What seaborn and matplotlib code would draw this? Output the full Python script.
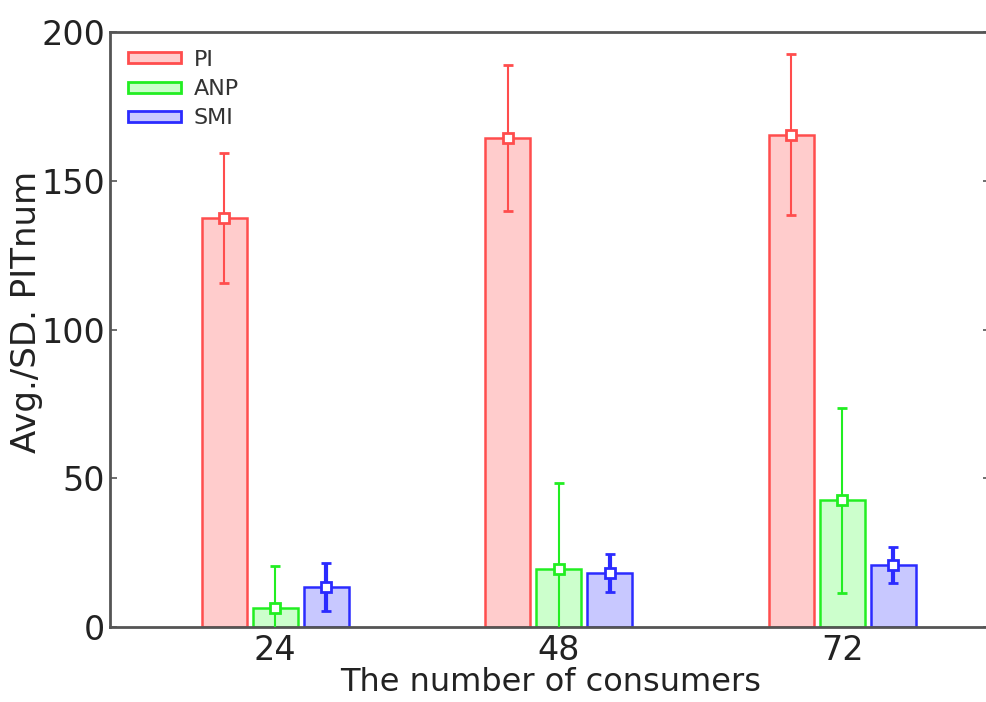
import pandas as pd
import seaborn as sns
import matplotlib.pyplot as plt

# values
consumers = ['24', '48', '72']
methods = ['PI', 'ANP', 'SMI']
pi_avg = [137.5, 164.3, 165.5]
pi_sd = [22.0, 24.5, 27.0]
anp_avg = [6.5, 19.5, 42.6]
anp_sd = [14.0, 29.0, 31.0]
smi_avg = [13.5, 18.2, 20.9]
smi_sd = [8.0, 6.5, 6.0]

face_colors = ['#ffcccc', '#ccffcc', '#c8c8ff']
edge_colors = ['#ff4d4d', '#22ee22', '#2b2bff']
err_widths = [1.5, 1.5, 3.0]

df = pd.DataFrame({
    'consumers': consumers * 3,
    'method': [m for m in methods for _ in consumers],
    'avg': pi_avg + anp_avg + smi_avg,
})
sds = [pi_sd, anp_sd, smi_sd]

sns.set_style('white')
plt.rcParams['font.family'] = ['DejaVu Sans']

fig = plt.figure(figsize=(9.87, 7.02), dpi=100)
ax = fig.add_axes([0.1115, 0.1068, 0.892, 0.8476])

sns.barplot(data=df, x='consumers', y='avg', hue='method', order=consumers,
            hue_order=methods, palette=face_colors, width=0.54, gap=0.12,
            errorbar=None, saturation=1, ax=ax)

# edges, error bars and mean markers
bar_groups = list(ax.containers)
for i, cont in enumerate(bar_groups):
    xs, ys = [], []
    for bar in cont:
        bar.set_edgecolor(edge_colors[i])
        bar.set_linewidth(1.8)
        xs.append(bar.get_x() + bar.get_width() / 2)
        ys.append(bar.get_height())
    ax.errorbar(xs, ys, yerr=sds[i], fmt='s', ms=7, mfc='white',
                mec=edge_colors[i], mew=2, ecolor=edge_colors[i],
                elinewidth=err_widths[i], capsize=3.5, capthick=err_widths[i],
                zorder=5)

ax.set_ylim(0, 200)
ax.set_xlim(-0.582, 2.522)
ax.set_yticks([0, 50, 100, 150, 200])
ax.tick_params(axis='y', direction='in', length=5, width=1.2, colors='#555555',
               labelcolor='#222222', labelsize=24, right=True, left=True)
ax.tick_params(axis='x', length=0, labelsize=24, labelcolor='#222222', pad=5)
ax.set_xlabel('The number of consumers', fontsize=23, color='#222222', labelpad=0)
ax.set_ylabel('Avg./SD. PITnum', fontsize=24.5, color='#222222')
ax.yaxis.set_label_coords(-0.076, 0.53)
for s in ax.spines.values():
    s.set_color('#555555')
    s.set_linewidth(2)

leg = ax.legend(loc='upper left', frameon=False, fontsize=16,
                handlelength=2.4, handleheight=0.4, labelspacing=0.42,
                borderaxespad=0.5, borderpad=0.3, handletextpad=0.55)
for h, ec in zip(leg.legend_handles, edge_colors):
    h.set_edgecolor(ec)
    h.set_linewidth(2)
for t in leg.get_texts():
    t.set_color('#333333')

fig.savefig('out.png', dpi=100)
